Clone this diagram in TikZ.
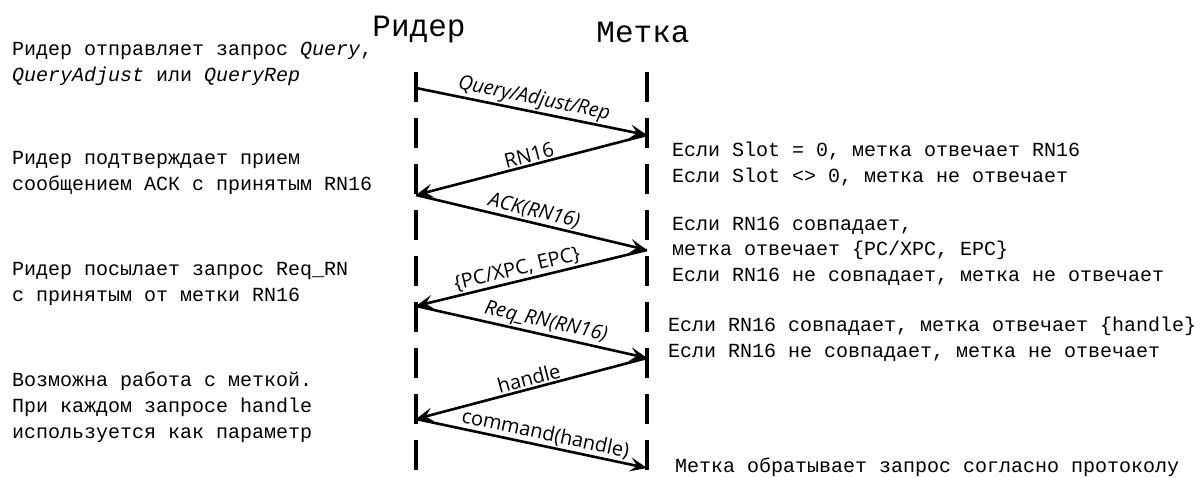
\documentclass[tikz,border=0pt]{standalone}
\usepackage{fontspec}
\newfontfamily\mono{Liberation Mono}
\newfontfamily\lblfont{Open Sans}
\usetikzlibrary{arrows.meta}

\begin{document}
\begin{tikzpicture}[x=1pt,y=-1pt,
  lifeline/.style={line width=4.5pt, dash pattern=on 30pt off 16pt},
  msg/.style={line width=2.6pt, -{Stealth[length=17pt,width=14pt,inset=7pt]}},
  note/.style={font=\mono\fontsize{20}{25}\selectfont, anchor=base west, inner sep=0pt},
  head/.style={font=\mono\fontsize{31}{36}\selectfont, anchor=base, inner sep=0pt},
  lbl/.style={font=\lblfont\fontsize{20}{24}\selectfont, sloped, above, midway, inner sep=1.5pt}]
\useasboundingbox (0,0) rectangle (1200,478);

% participants
\node[head] (reader) at (419,37) {Ридер};
\node[head] (tag) at (643,43) {Метка};

% lifelines
\coordinate (r0) at (416,72);
\coordinate (r1) at (416,478);
\coordinate (t0) at (647,72);
\coordinate (t1) at (647,478);
\draw[lifeline] (r0) -- (r1);
\draw[lifeline] (t0) -- (t1);

% message end points
\coordinate (m0) at (416,88);
\coordinate (m1) at (647,135);
\coordinate (m2) at (416,195);
\coordinate (m3) at (647,250);
\coordinate (m4) at (416,306);
\coordinate (m5) at (647,358);
\coordinate (m6) at (416,419);
\coordinate (m7) at (647,468);

% messages
\draw[msg] (m0) -- node[lbl] (l1) {\itshape Query/Adjust/Rep} (m1);
\draw[msg] (m1) -- node[lbl] (l2) {RN16} (m2);
\draw[msg] (m2) -- node[lbl] (l3) {\itshape ACK(RN16)} (m3);
\draw[msg] (m3) -- node[lbl, pos=0.55] (l4) {\{PC/XPC, EPC\}} (m4);
\draw[msg] (m4) -- node[lbl, pos=0.55] (l5) {\itshape Req\_RN(RN16)} (m5);
\draw[msg] (m5) -- node[lbl] (l6) {handle} (m6);
\draw[msg] (m6) -- node[lbl, pos=0.55] (l7) {command(handle)} (m7);

% reader side notes
\node[note] (a1) at (12,56) {Ридер отправляет запрос \textit{Query},};
\node[note] (a2) at (12,82) {\textit{QueryAdjust} или \textit{QueryRep}};
\node[note] (b1) at (12,165) {Ридер подтверждает прием};
\node[note] (b2) at (12,191) {сообщением АСК с принятым RN16};
\node[note] (c1) at (12,276) {Ридер посылает запрос Req\_RN};
\node[note] (c2) at (12,302) {с принятым от метки RN16};
\node[note] (d1) at (12,386) {Возможна работа с меткой.};
\node[note] (d2) at (12,412) {При каждом запросе handle};
\node[note] (d3) at (12,438) {используется как параметр};

% tag side notes
\node[note] (e1) at (672,157) {Если Slot = 0, метка отвечает RN16};
\node[note] (e2) at (672,183) {Если Slot <> 0, метка не отвечает};
\node[note] (f1) at (672,231) {Если RN16 совпадает,};
\node[note] (f2) at (672,256) {метка отвечает \{PC/XPC, EPC\}};
\node[note] (f3) at (672,282) {Если RN16 не совпадает, метка не отвечает};
\node[note] (g1) at (668,332) {Если RN16 совпадает, метка отвечает \{handle\}};
\node[note] (g2) at (668,358) {Если RN16 не совпадает, метка не отвечает};
\node[note] (h1) at (675,472) {Метка обратывает запрос согласно протоколу};
\end{tikzpicture}
\end{document}
